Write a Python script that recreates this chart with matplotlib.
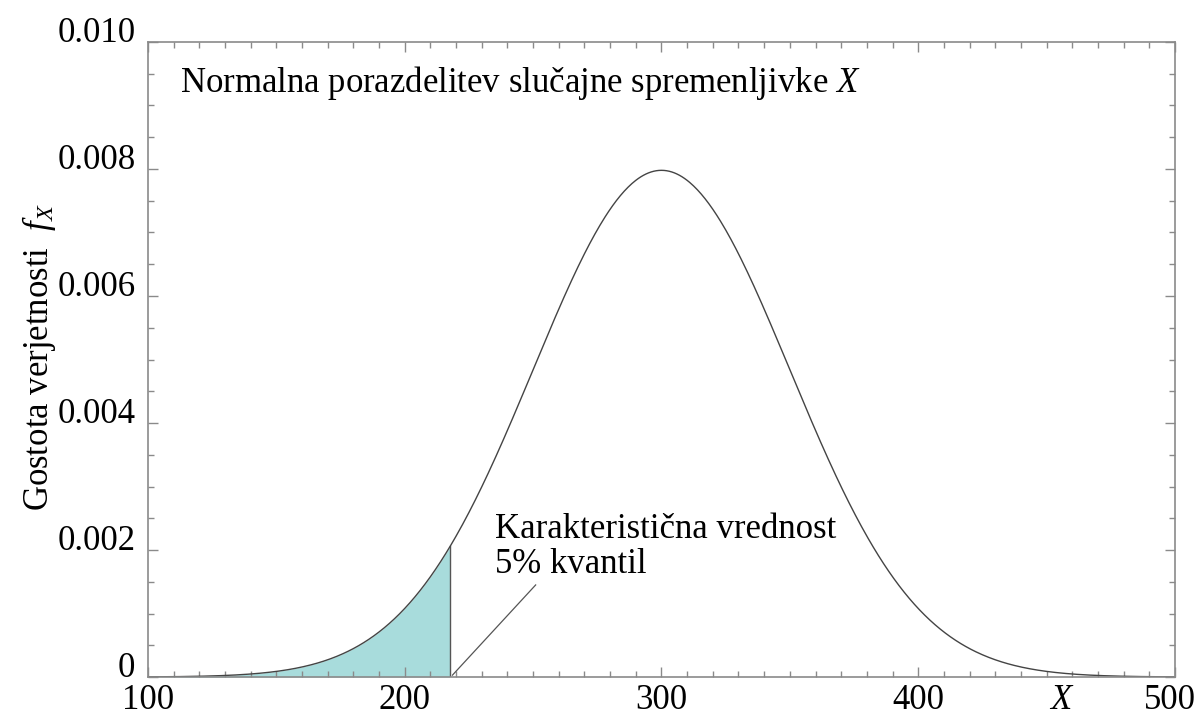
import numpy as np
import matplotlib
matplotlib.use("Agg")
import matplotlib.pyplot as plt
import matplotlib.transforms as mtransforms
from matplotlib.ticker import MultipleLocator

# Normal distribution: peak 0.008 at X = 300
MU = 300.0
SIGMA = 50.0
Q05 = 217.8  # 5% quantile, edge of the shaded area

x_ticks = [100, 200, 300, 400, 500]
y_ticks = [0.0, 0.002, 0.004, 0.006, 0.008, 0.010]
y_labels = ["0", "0.002", "0.004", "0.006", "0.008", "0.010"]

title_text = "Normalna porazdelitev slučajne spremenljivke $X$"
note_text = "Karakteristična vrednost\n5% kvantil"
ylabel_text = "Gostota verjetnosti  $f_X$"

plt.rcParams["font.family"] = ["Liberation Serif", "DejaVu Serif"]
plt.rcParams["mathtext.fontset"] = "custom"
plt.rcParams["mathtext.rm"] = "Liberation Serif"
plt.rcParams["mathtext.it"] = "Liberation Serif:italic"

FS = 25
frame = "#8a8a8a"

x = np.linspace(100, 500, 801)
pdf = np.exp(-0.5 * ((x - MU) / SIGMA) ** 2) / (SIGMA * np.sqrt(2 * np.pi))

fig = plt.figure(figsize=(11.97, 7.15), dpi=100)
ax = fig.add_axes([0.1236, 0.0531, 0.858, 0.8882])

mask = x <= Q05
ax.fill_between(x[mask], 0, pdf[mask], color="#a8dcdc", lw=0)
q_pdf = np.exp(-0.5 * ((Q05 - MU) / SIGMA) ** 2) / (SIGMA * np.sqrt(2 * np.pi))
ax.plot([Q05, Q05], [0, q_pdf], color="#555555", lw=1.0)
ax.plot(x, pdf, color="#444444", lw=1.0)

ax.set_xlim(100, 500)
ax.set_ylim(0, 0.010)
ax.set_xticks(x_ticks)
ax.set_yticks(y_ticks)
ax.set_yticklabels(y_labels)
for lab in ax.get_yticklabels():
    lab.set_va("baseline")
ax.xaxis.set_minor_locator(MultipleLocator(10))
ax.yaxis.set_minor_locator(MultipleLocator(0.0005))
ax.tick_params(which="both", direction="in", top=True, right=True,
               color=frame, width=1.0, labelsize=FS)
ax.tick_params(which="major", length=7)
ax.tick_params(which="minor", length=4)
ax.tick_params(axis="x", pad=5)
ax.tick_params(axis="y", pad=9)
for s in ax.spines.values():
    s.set_color(frame)
    s.set_linewidth(1.2)

# nudge the last x label so it stays inside the picture
last = ax.get_xticklabels()[-1]
last.set_transform(last.get_transform() +
                   mtransforms.ScaledTranslation(-5 / 100, 0, fig.dpi_scale_trans))

ax.text(456, -0.00011, "$X$", fontsize=FS, ha="center", va="top")
ax.text(112.5, 0.00935, title_text, fontsize=FS, ha="left", va="center")
ax.text(235, 0.00205, note_text, fontsize=FS, ha="left", va="center",
        linespacing=1.1)
ax.plot([Q05 + 0.8, 251], [0.00003, 0.00145], color="#555555", lw=0.9)

ax.set_ylabel(ylabel_text, fontsize=FS)
ax.yaxis.set_label_coords(-0.088, 0.504)

fig.savefig("out.png", dpi=100)
